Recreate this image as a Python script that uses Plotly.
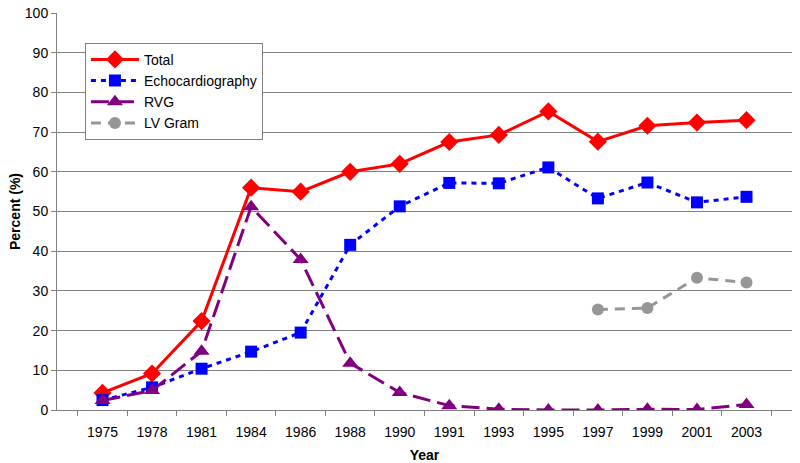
import plotly.graph_objects as go

years = ["1975", "1978", "1981", "1984", "1986", "1988", "1990", "1991", "1993", "1995", "1997", "1999", "2001", "2003"]
total = [4.3, 9.2, 22.4, 56.0, 55.0, 60.0, 62.0, 67.5, 69.3, 75.2, 67.6, 71.6, 72.4, 73.0]
echo = [2.5, 5.7, 10.4, 14.7, 19.5, 41.6, 51.3, 57.2, 57.1, 61.1, 53.3, 57.3, 52.3, 53.7]
rvg = [2.4, 4.9, 14.8, 51.2, 37.9, 11.8, 4.4, 1.1, 0.2, 0.0, 0.0, 0.2, 0.1, 1.4]
lvgram = [None, None, None, None, None, None, None, None, None, None, 25.3, 25.7, 33.3, 32.1]

fig = go.Figure()
fig.add_trace(go.Scatter(x=years, y=total, name="Total", mode="lines+markers",
                         line=dict(color="#FF0000", width=3),
                         marker=dict(symbol="diamond", size=14, color="#FF0000")))
fig.add_trace(go.Scatter(x=years, y=echo, name="Echocardiography", mode="lines+markers",
                         line=dict(color="#0000FF", width=3, dash="5px,5px"),
                         marker=dict(symbol="square", size=12, color="#0000FF")))
fig.add_trace(go.Scatter(x=years, y=rvg, name="RVG", mode="lines+markers",
                         line=dict(color="#800080", width=3, dash="18px,7px"),
                         marker=dict(symbol="triangle-up", size=14, color="#800080")))
fig.add_trace(go.Scatter(x=years, y=lvgram, name="LV Gram", mode="lines+markers",
                         line=dict(color="#969696", width=3, dash="10px,7px"),
                         marker=dict(symbol="circle", size=12, color="#969696")))

fig.update_layout(
    width=800, height=463,
    margin=dict(l=57, r=8, t=13, b=53),
    paper_bgcolor="white", plot_bgcolor="white",
    font=dict(family="Liberation Sans, Arial, sans-serif", size=14, color="black"),
    legend=dict(x=0.038, y=0.925, xanchor="left", yanchor="top",
                bgcolor="white", bordercolor="#808080", borderwidth=1,
                font=dict(size=14), tracegroupgap=0, itemwidth=48),
    xaxis=dict(type="category", showgrid=False, showline=True, linecolor="#808080",
               linewidth=1, ticks="outside", tickson="boundaries", ticklen=5,
               tickcolor="#808080", automargin=False, ticklabelstandoff=9,
               title=dict(text="<b>Year</b>", font=dict(size=14), standoff=12)),
    yaxis=dict(range=[0, 100], dtick=10, showgrid=True, gridcolor="#808080",
               gridwidth=1, showline=True, linecolor="#808080", linewidth=1,
               ticks="outside", ticklen=5, tickcolor="#808080", zeroline=False,
               automargin=False,
               title=dict(text="<b>Percent (%)</b>", font=dict(size=14), standoff=0)),
)
fig.write_html("out.html", config={"displayModeBar": False},
               post_script="document.body.style.margin='0';")
